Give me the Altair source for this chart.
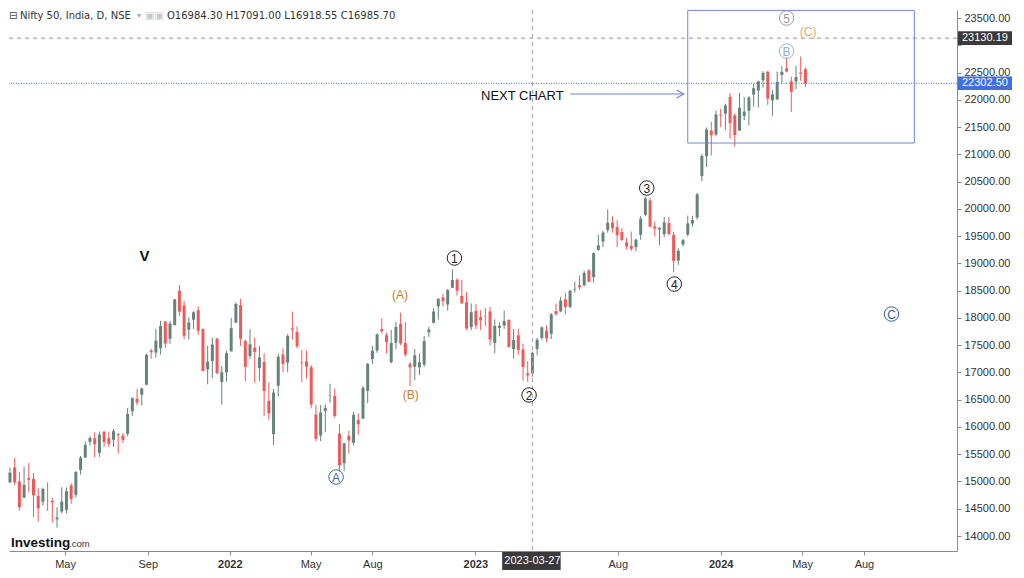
import altair as alt
import pandas as pd

# ---------------- weekly OHLC (week starting Mondays) ----------------
week_start = "2021-02-08"
opens = [
 14983,15258,15001,14702,15065,15048,14737,14628,14837,14644,14306,14449,14481,14928,14756,15211,15436,15725,15792,15525,
 15916,15793,15766,15877,15842,15874,16287,16518,16592,16775,17400,17363,17443,17932,17615,17867,18500,18230,17783,17967,
 18141,17796,17056,17209,17619,16825,17000,
 17387,17913,18235,17575,17301,17456,17077,17192,16481,15868,16757,17330,17181,17809,17741,17183,17202,17096,16227,15845,
 16290,16578,16570,15877,15335,15839,15710,16126,16151,16662,17244,17401,17797,17682,17188,17546,17890,17540,17156,17102,
 17094,17144,17736,17910,18211,18377,18246,18552,18701,18402,18288,17830,
 18131,18012,18034,18119,17541,17818,17859,17966,17428,17681,17422,16985,16984,17428,17634,17767,17707,18124,18120,18339,
 18201,18520,18600,18596,18873,18748,19246,19400,19612,19748,19666,19576,19383,19320,19298,19525,19890,20156,19678,19622,
 19539,19738,19522,19053,19346,19525,19731,19844,20601,20965,21434,21365,
 21727,21747,22053,21716,21434,21705,21800,22096,22169,22359,22517,21990,22004,22455,22578,22339,22336,22500,22562]
highs = [
 15257,15431,15176,15273,15336,15154,14878,14876,14984,14697,14527,14894,14892,14967,15190,15469,15733,15835,15901,15915,
 15916,15915,15962,15881,15889,16350,16543,16701,16722,17340,17436,17793,17948,17948,17941,18350,18604,18310,18013,18123,
 18210,17805,17490,17639,17639,17118,17400,
 18000,18286,18350,17600,17794,17640,17490,17352,16815,16695,17344,17442,17703,18114,17842,17414,17400,17132,16404,16400,
 16414,16793,16704,16050,15707,15927,16275,16248,16752,17172,17490,17719,17992,17726,17777,17925,18096,17919,17196,17428,
 17348,17670,17838,18176,18362,18442,18529,18888,18728,18697,18473,18265,
 18252,18141,18183,18202,17972,17917,18134,17972,17800,17799,17530,17207,17381,17638,17842,17863,18089,18267,18389,18459,
 18508,18663,18778,18864,18887,19202,19524,19596,19991,19867,19795,19646,19465,19584,19458,19867,20222,20195,19766,19661,
 19850,19850,19580,19276,19451,19875,19875,20291,21006,21492,21593,21801,
 21834,21928,22124,21750,22127,22053,22069,22297,22353,22526,22526,22180,22516,22619,22776,22427,22625,22794,22588]
lows = [
 14977,14935,14467,14702,14797,14350,14264,14555,14459,14248,14151,14415,14416,14592,14707,15127,15435,15659,15450,15451,
 15635,15632,15632,15513,15706,15834,16197,16395,16395,16765,17254,17270,17327,17452,17526,17865,18034,17613,17600,17798,
 17688,17026,16782,16891,16966,16410,16834,
 17383,17905,17486,16837,17244,16809,16843,16203,16133,15671,16556,17006,17003,17600,17442,16824,16889,16340,15735,15740,
 15903,16444,16172,15183,15191,15511,15661,15858,16143,16438,17154,17359,17710,17345,17166,17429,17497,17291,16748,16855,
 16950,17098,17654,17900,17969,18210,18133,18548,18410,18255,17775,17774,
 17796,17775,17853,17493,17353,17660,17800,17455,17255,17325,16851,16828,16918,17312,17597,17553,17612,18042,18103,18060,
 18179,18464,18515,18581,18647,18647,19230,19300,19562,19563,19296,19412,19254,19229,19223,19432,19865,19657,19493,19333,
 19480,19518,18837,18973,19309,19494,19668,19800,20507,20769,20977,21330,
 21500,21448,21285,21137,21429,21629,21530,21875,21860,22224,21905,21710,22004,22306,22503,21777,22198,22348,22232]
closes = [
 15163,14982,14529,14938,15031,14744,14507,14867,14835,14617,14341,14631,14823,14678,15175,15436,15670,15799,15683,15860,
 15722,15690,15923,15856,15763,16238,16529,16450,16705,17324,17369,17585,17853,17532,17896,18339,18115,17672,17917,18102,
 17765,17026,17197,17511,16985,17003,17354,
 17812,18256,17617,17102,17516,17375,17276,16658,16246,16630,17287,17153,17670,17784,17476,17171,17102,16411,15782,16266,
 16352,16584,16202,15294,15699,15752,16221,16049,16719,17158,17397,17698,17758,17559,17539,17833,17531,17327,17094,17315,
 17186,17576,17787,18117,18350,18308,18512,18697,18497,18269,17807,18105,
 17859,17956,18027,17604,17854,17856,17944,17466,17594,17413,17100,16945,17360,17600,17828,17624,18065,18069,18315,18203,
 18499,18534,18563,18826,18665,19189,19332,19565,19745,19646,19518,19428,19310,19266,19435,19820,20192,19674,19638,19654,
 19751,19542,19047,19230,19425,19732,19795,20268,20969,21457,21349,21731,
 21711,21895,21572,21353,21854,21783,22041,22213,22339,22494,22023,22097,22327,22514,22519,22147,22420,22476,22302]

# ---------------- annotations ----------------
circle_text = ["1", "2", "3", "4", "5", "A", "B", "C"]
circle_date = ["2022-12-01", "2023-03-22", "2023-09-13", "2023-10-24", "2024-04-08",
               "2022-06-08", "2024-04-08", "2024-09-11"]
circle_value = [19098, 16586, 20382, 18621, 23500, 15082, 22894, 18071]
circle_color = ["#222222", "#222222", "#222222", "#222222", "#9a9a9a",
                "#3a68a0", "#93b1d6", "#2f5f9a"]

paren_text = ["(A)", "(B)", "(C)"]
paren_date = ["2022-09-11", "2022-09-27", "2024-05-10"]
paren_value = [18420, 16586, 23243]
paren_color = ["#c47f2a", "#c47f2a", "#e0ab72"]

wave_text = ["V"]
wave_date = ["2021-08-27"]
wave_value = [19135]

next_text = ["NEXT CHART"]
next_date = ["2023-03-12"]
next_value = [22069]
arrow_from = ["2023-05-22"]
arrow_to = ["2023-11-07"]
arrow_value = [22106]

box_from = ["2023-11-13"]
box_to = ["2024-10-15"]
box_top = [23640]
box_bottom = [21207]

cross_date = ["2023-03-27"]
cross_label_from = ["2023-02-10"]
cross_label_to = ["2023-05-08"]
cross_price = [23130.19]
last_price = [22302.50]

y_ticks = list(range(14000, 24000, 500))
y_hidden_label = 23000
x_ticks = [(2021, 5), (2021, 9), (2022, 1), (2022, 5), (2022, 8), (2023, 1),
           (2023, 8), (2024, 1), (2024, 5), (2024, 8)]

header_icon = "⊟"
header_name = "Nifty 50, India, D, NSE"
header_caret = "▾"
header_ohlc = "O16984.30  H17091.00  L16918.55  C16985.70"

# ---------------- build ----------------
W, H = 948, 541
UP, DOWN = "#64847a", "#ee5a5a"
FONT = "Liberation Sans"

dates = pd.date_range(week_start, periods=len(opens), freq="7D").strftime("%Y-%m-%d")
df = pd.DataFrame({"date": dates, "open": opens, "high": highs, "low": lows, "close": closes})
df["high"] = df[["high", "open", "close"]].max(axis=1)
df["low"] = df[["low", "open", "close"]].min(axis=1)

xscale = alt.Scale(domain=[alt.DateTime(year=2021, month=2, date=14),
                           alt.DateTime(year=2024, month=12, date=10)])
yscale = alt.Scale(domain=[13725, 23647], nice=False, zero=False)

xaxis = alt.Axis(
    title=None, values=[alt.DateTime(year=y, month=m, date=1) for y, m in x_ticks],
    labelExpr="month(datum.value) == 0 ? timeFormat(datum.value, '%Y') : timeFormat(datum.value, '%b')",
    labelFontWeight={"condition": {"test": "month(datum.value) == 0", "value": "bold"}, "value": "normal"},
    grid=False, tickSize=4, labelFont=FONT, labelFontSize=11, labelColor="#333333",
    domainColor="#8a8a8a", tickColor="#8a8a8a", labelPadding=3)
yaxis = alt.Axis(
    title=None, orient="right", values=y_ticks,
    labelExpr=f"datum.value == {y_hidden_label} ? '' : format(datum.value, '.2f')",
    grid=False, tickSize=4,
    labelFont=FONT, labelFontSize=11, labelColor="#333333",
    domainColor="#8a8a8a", tickColor="#8a8a8a", labelPadding=3)


def X(f):
    return alt.X(f, type="temporal", scale=xscale, axis=xaxis)


def Y(f):
    return alt.Y(f, type="quantitative", scale=yscale, axis=yaxis)


candle_color = alt.condition("datum.close >= datum.open", alt.value(UP), alt.value(DOWN))
base = alt.Chart(df)
wicks = base.mark_rule(strokeWidth=1).encode(x=X("date"), y=Y("low"), y2="high", color=candle_color)
bodies = base.mark_bar(size=3).encode(x=X("date"), y=Y("open"), y2="close", color=candle_color)

# guide lines
cross_v = alt.Chart(pd.DataFrame({"d": cross_date})).mark_rule(
    color="#a0a0a0", strokeDash=[4, 4], strokeWidth=1).encode(x=X("d"))
cross_h = alt.Chart(pd.DataFrame({"p": cross_price})).mark_rule(
    color="#999999", strokeDash=[4, 4], strokeWidth=1).encode(y=Y("p"))
last_h = alt.Chart(pd.DataFrame({"p": last_price})).mark_rule(
    color="#4a6fdc", strokeDash=[1, 1.5], strokeWidth=1).encode(y=Y("p"))

# box
box = alt.Chart(pd.DataFrame({"a": box_from, "b": box_to, "t": box_top, "u": box_bottom})).mark_rect(
    filled=False, stroke="#7088d6", strokeWidth=1).encode(x=X("a"), x2="b", y=Y("t"), y2="u")

# arrow + NEXT CHART
adf = pd.DataFrame({"a": arrow_from, "b": arrow_to, "v": arrow_value})
arrow_line = alt.Chart(adf).mark_rule(color="#6f88d4", strokeWidth=1.2).encode(x=X("a"), x2="b", y=Y("v"))
arrow_head = alt.Chart(adf).mark_point(
    shape="M-1.75,-1L0,0L-1.75,1", size=64, filled=False, stroke="#6f88d4", strokeWidth=1.2, opacity=1
).encode(x=X("b"), y=Y("v"))
next_lbl = alt.Chart(pd.DataFrame({"t": next_text, "d": next_date, "v": next_value})).mark_text(
    font=FONT, fontSize=13, color="#111111", align="center", baseline="middle").encode(
    x=X("d"), y=Y("v"), text="t")

# wave labels
cdf = pd.DataFrame({"t": circle_text, "d": circle_date, "v": circle_value, "c": circle_color})
circles = alt.Chart(cdf).mark_point(shape="circle", size=210, filled=False, strokeWidth=1, opacity=1).encode(
    x=X("d"), y=Y("v"), stroke=alt.Stroke("c:N", scale=None))
circle_lbl = alt.Chart(cdf).mark_text(font=FONT, fontSize=12, align="center", baseline="middle", dy=0.5).encode(
    x=X("d"), y=Y("v"), text="t", color=alt.Color("c:N", scale=None))
pdf = pd.DataFrame({"t": paren_text, "d": paren_date, "v": paren_value, "c": paren_color})
paren_lbl = alt.Chart(pdf).mark_text(font=FONT, fontSize=12, align="center", baseline="middle").encode(
    x=X("d"), y=Y("v"), text="t", color=alt.Color("c:N", scale=None))
wave_lbl = alt.Chart(pd.DataFrame({"t": wave_text, "d": wave_date, "v": wave_value})).mark_text(
    font=FONT, fontSize=15, fontWeight="bold", color="#111111", align="center", baseline="middle").encode(
    x=X("d"), y=Y("v"), text="t")

# axis price/date tags
tag_half = 125
tdf = pd.DataFrame({"p": cross_price + last_price,
                    "lbl": [f"{cross_price[0]:.2f}", f"{last_price[0]:.2f}"],
                    "bg": ["#3a3a3a", "#3f6fe0"]})
tdf["p_hi"] = tdf["p"] + tag_half
tdf["p_lo"] = tdf["p"] - tag_half
tag_rect = alt.Chart(tdf).mark_rect().encode(
    x=alt.value(W + 1), x2=alt.value(W + 55), y=Y("p_hi"), y2="p_lo", fill=alt.Fill("bg:N", scale=None))
tag_text = alt.Chart(tdf).mark_text(font=FONT, fontSize=11, color="white", align="left", baseline="middle").encode(
    x=alt.value(W + 5), y=Y("p"), text="lbl")

ddf = pd.DataFrame({"a": cross_label_from, "b": cross_label_to, "d": cross_date, "lbl": cross_date})
date_rect = alt.Chart(ddf).mark_rect(color="#3a3a3a").encode(
    x=X("a"), x2="b", y=alt.value(H + 1), y2=alt.value(H + 19))
date_text = alt.Chart(ddf).mark_text(font=FONT, fontSize=11, color="white", align="center", baseline="middle").encode(
    x=X("d"), y=alt.value(H + 10), text="lbl")

# header + logo
hdr = pd.DataFrame({"i": [header_icon], "a": [header_name], "k": [header_caret], "b": [header_ohlc],
                    "c": ["Investing"], "e": [".com"]})
hdr_icon = alt.Chart(hdr).mark_text(font="DejaVu Sans", fontSize=10, color="#444444", align="left",
                                    baseline="middle").encode(x=alt.value(0), y=alt.value(6), text="i")
hdr_name = alt.Chart(hdr).mark_text(font="DejaVu Sans", fontSize=10, color="#333333", align="left",
                                    baseline="middle").encode(x=alt.value(11), y=alt.value(6), text="a")
hdr_caret = alt.Chart(hdr).mark_text(font="DejaVu Sans", fontSize=8, color="#aaaaaa", align="left",
                                     baseline="middle").encode(x=alt.value(128), y=alt.value(6), text="k")
hdr_icons = alt.Chart(hdr).mark_text(font="DejaVu Sans", fontSize=10, color="#c8c8c8", align="left",
                                     baseline="middle").encode(x=alt.value(136), y=alt.value(6), text=alt.value("▣▣"))
hdr_ohlc = alt.Chart(hdr).mark_text(font="DejaVu Sans", fontSize=10, color="#333333", align="left",
                                    baseline="middle").encode(x=alt.value(158), y=alt.value(6), text="b")
logo1 = alt.Chart(hdr).mark_text(font=FONT, fontSize=13.5, fontWeight="bold", color="#111111", align="left",
                                 baseline="alphabetic").encode(x=alt.value(2), y=alt.value(537), text="c")
logo2 = alt.Chart(hdr).mark_text(font=FONT, fontSize=9.5, color="#333333", align="left",
                                 baseline="alphabetic").encode(x=alt.value(60), y=alt.value(537), text="e")

chart = alt.layer(
    wicks, bodies, cross_v, cross_h, last_h, box, arrow_line, arrow_head, next_lbl,
    circles, circle_lbl, paren_lbl, wave_lbl, tag_rect, tag_text, date_rect, date_text,
    hdr_icon, hdr_name, hdr_caret, hdr_icons, hdr_ohlc, logo1, logo2
).properties(
    width=W, height=H, padding={"left": 0, "top": 0, "right": 0, "bottom": 0}, background="white"
).configure_view(stroke=None)

chart.save("out.html", embed_options={"renderer": "svg", "actions": False})
